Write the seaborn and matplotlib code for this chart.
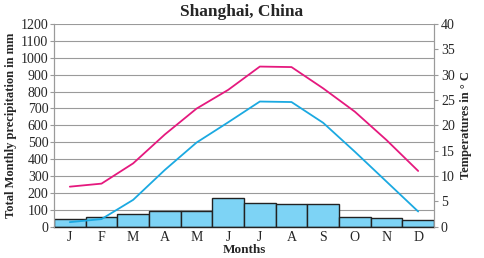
import numpy as np
import pandas as pd
import matplotlib
matplotlib.use("Agg")
import matplotlib.pyplot as plt
import seaborn as sns

months = ["Jan", "Feb", "Mar", "Apr", "May", "Jun", "Jul", "Aug", "Sep", "Oct", "Nov", "Dec"]
month_labels = ["J", "F", "M", "A", "M", "J", "J", "A", "S", "O", "N", "D"]
precip_mm = [44, 55, 75, 92, 94, 168, 138, 134, 132, 55, 50, 41]
temp_max = [7.9, 8.5, 12.5, 18.2, 23.3, 27.0, 31.6, 31.5, 27.3, 22.7, 17.1, 11.0]
temp_min = [0.9, 1.5, 5.3, 11.2, 16.6, 20.6, 24.7, 24.6, 20.5, 14.8, 8.9, 3.0]
precip_ticks = list(range(0, 1300, 100))
temp_ticks = list(range(0, 45, 5))

sns.set_style("white")
plt.rcParams["font.family"] = ["Liberation Serif", "DejaVu Serif"]

df = pd.DataFrame({"month": months, "precip": precip_mm,
                   "pos": np.arange(12), "tmax": temp_max, "tmin": temp_min})

fig = plt.figure(figsize=(4.84, 2.58), dpi=100)
ax = fig.add_axes([54/484, 1 - 226.7/258, (434 - 54)/484, (226.7 - 24)/258])

grid_c = "#9a9a9a"
sns.barplot(data=df, x="month", y="precip", ax=ax, width=1.0,
            color="#7dd3f5", saturation=1, edgecolor="#222222", linewidth=1.0, zorder=2)
ax.set_ylim(0, 1200)
ax.set_xlim(-0.5, 11.5)
ax.set_yticks(precip_ticks)
ax.set_yticklabels([str(t) for t in precip_ticks], fontsize=10)
ax.set_xticks(np.arange(12))
ax.set_xticklabels(month_labels, fontsize=10)
ax.yaxis.grid(True, color=grid_c, linewidth=0.8, zorder=0)
ax.set_axisbelow(True)
ax.tick_params(axis="y", length=3, color=grid_c, pad=1)
ax.tick_params(axis="x", length=0, pad=3)
ax.set_xlabel("Months", fontsize=9.5, fontweight="bold", labelpad=0)
ax.set_ylabel("Total Monthly precipitation in mm", fontsize=9, fontweight="bold", labelpad=3)
for s in ["left", "right"]:
    ax.spines[s].set_color(grid_c)
    ax.spines[s].set_linewidth(0.8)
ax.spines["top"].set_visible(False)
ax.spines["bottom"].set_color("#222222")
ax.spines["bottom"].set_linewidth(1.0)

ax2 = ax.twinx()
sns.lineplot(data=df, x="pos", y="tmax", ax=ax2, color="#e5197e", linewidth=1.3)
sns.lineplot(data=df, x="pos", y="tmin", ax=ax2, color="#1ba9e1", linewidth=1.3)
ax2.set_ylim(0, 40)
ax2.set_xlim(-0.5, 11.5)
ax2.set_yticks(temp_ticks)
ax2.set_yticklabels([str(t) for t in temp_ticks], fontsize=10)
ax2.tick_params(axis="y", length=3, color=grid_c, pad=2)
ax2.set_ylabel("Temperatures in \u00b0 C", fontsize=9, fontweight="bold", labelpad=4)
ax2.set_xlabel("")
for s in ["left", "right"]:
    ax2.spines[s].set_color(grid_c)
    ax2.spines[s].set_linewidth(0.8)
ax2.spines["top"].set_visible(False)
ax2.spines["bottom"].set_visible(False)

fig.text(0.5, 0.955, "Shanghai, China", ha="center", va="center",
         fontsize=12.5, fontweight="bold")

fig.savefig("out.png", dpi=100)
